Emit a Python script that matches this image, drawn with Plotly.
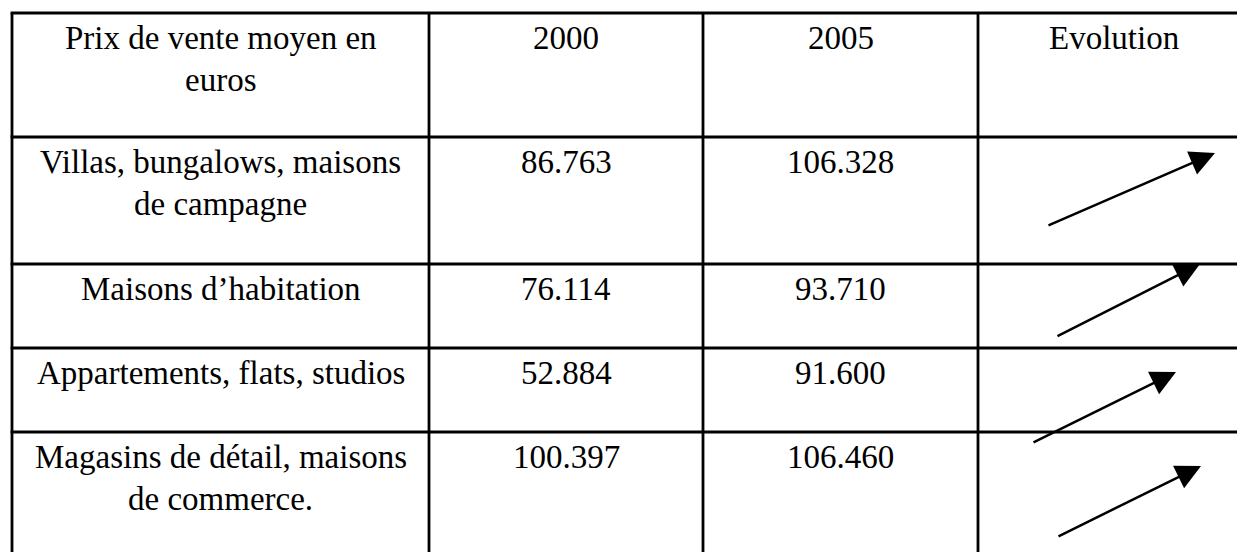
import plotly.graph_objects as go

# table content
header = ["Prix de vente moyen en<br>euros", "2000", "2005", "Evolution"]
categories = ["Villas, bungalows, maisons<br>de campagne",
              "Maisons d\u2019habitation",
              "Appartements, flats, studios",
              "Magasins de d\u00e9tail, maisons<br>de commerce."]
prix_2000 = ["86.763", "76.114", "52.884", "100.397"]
prix_2005 = ["106.328", "93.710", "91.600", "106.460"]

W, H = 1237, 552
col_edges = [12, 429, 703, 978, 1250]
row_tops = [13, 137, 264, 348, 432]
# hand drawn arrows in the evolution column: (tail x, tail y, tip x, tip y)
arrows = [(1047, 226, 1215, 153), (1056, 337, 1200, 264),
          (1032, 443, 1176, 372), (1057, 537, 1201, 466)]

FONT = "Liberation Serif"
FS = 33
LINE = 42
LINE_W = 2.8

fig = go.Figure()
fig.add_trace(go.Scatter(x=[0, W], y=[0, H], mode="markers",
                         marker=dict(opacity=0), hoverinfo="skip", showlegend=False))

# grid lines
for y in row_tops:
    fig.add_shape(type="line", x0=col_edges[0] - 1.4, x1=W + 30, y0=y, y1=y,
                  line=dict(color="black", width=LINE_W), xref="x", yref="y")
for x in col_edges[:-1]:
    fig.add_shape(type="line", x0=x, x1=x, y0=row_tops[0], y1=H + 30,
                  line=dict(color="black", width=LINE_W), xref="x", yref="y")


def cell_text(text, col, top):
    cx = (col_edges[col] + col_edges[col + 1]) / 2
    for k, line in enumerate(text.split("<br>")):
        fig.add_annotation(x=cx, y=top + 36 + k * LINE, text=line, showarrow=False,
                           xanchor="center", yanchor="bottom", yshift=-9,
                           font=dict(family=FONT, size=FS, color="black"))


rows = [header] + [[c, a, b, ""] for c, a, b in zip(categories, prix_2000, prix_2005)]
for r, row in enumerate(rows):
    for c, txt in enumerate(row):
        if txt:
            cell_text(txt, c, row_tops[r])

for tx, ty, hx, hy in arrows:
    fig.add_annotation(x=hx, y=hy, ax=tx, ay=ty, xref="x", yref="y", axref="x", ayref="y",
                       text="", showarrow=True, arrowhead=2, arrowsize=2, arrowwidth=2.5,
                       arrowcolor="black", standoff=0)

fig.update_xaxes(range=[0, W], visible=False, fixedrange=True)
fig.update_yaxes(range=[H, 0], visible=False, fixedrange=True)
fig.update_layout(width=W, height=H, margin=dict(l=0, r=0, t=0, b=0),
                  plot_bgcolor="white", paper_bgcolor="white", showlegend=False)

fig.write_html("out.html", config={"displayModeBar": False},
               post_script="document.body.style.margin='0';document.body.style.overflow='hidden';")
